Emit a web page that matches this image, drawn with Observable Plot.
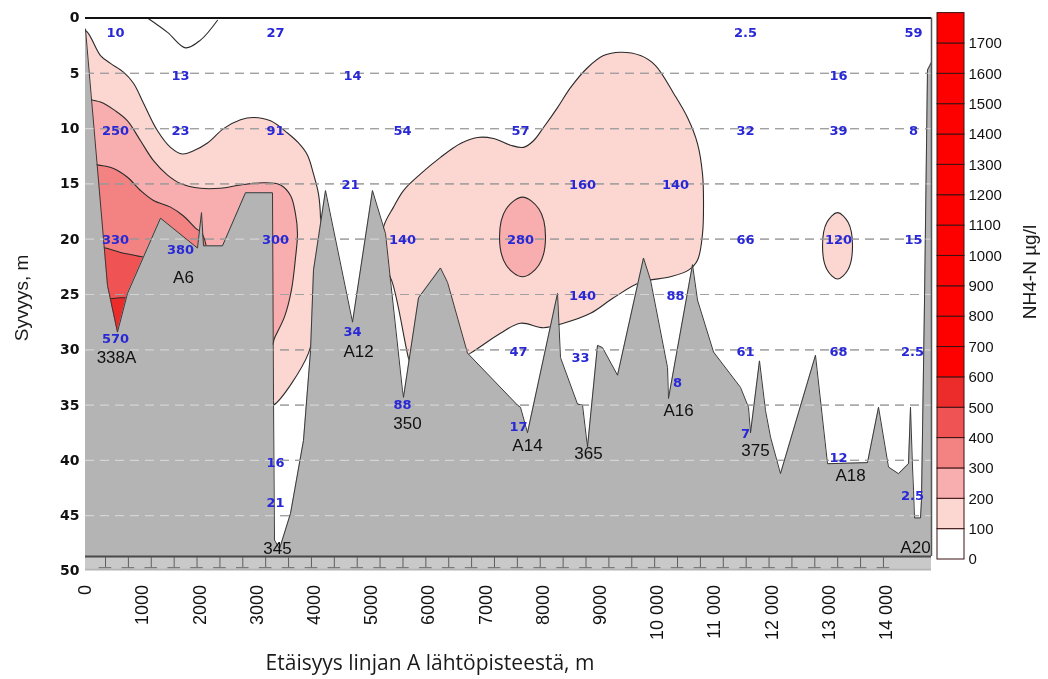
<!DOCTYPE html>
<html>
<head>
<meta charset="utf-8">
<script src="https://cdn.jsdelivr.net/npm/d3@7"></script>
<script src="https://cdn.jsdelivr.net/npm/@observablehq/plot@0.6"></script>
<style>
  body { margin: 0; background: #fff; }
  #wrap { position: relative; width: 1048px; height: 679px; overflow: hidden; font-family: "Liberation Sans", Arial, sans-serif; }
  #main { position: absolute; left: 0; top: 0; }
  #legend { position: absolute; left: 930px; top: 0; }
  .rot { position: absolute; white-space: nowrap; transform: translate(-50%, -50%) rotate(-90deg); color: #1a1a1a; }
  #xtitle { position: absolute; left: 0; width: 860px; top: 648px; text-align: center; font-family: "Open Sans", sans-serif; font-size: 21px; color: #1a1a1a; }
</style>
</head>
<body>
<div id="wrap">
  <div id="main"></div>
  <div id="legend"></div>
  <div class="rot" id="ytitle" style="left:22px; top:298px; font-size:19px;">Syvyys, m</div>
  <div class="rot" id="ltitle" style="left:1030px; top:272px; font-size:19px;">NH4-N µg/l</div>
  <div id="xtitle">Etäisyys linjan A lähtöpisteestä, m</div>
</div>
<script>
// Section A: distance along the line (m) vs depth (m)

// Sea-floor profile [distance, depth]
const seabed = [
  [0,1.0],[385,24.2],[559,28.4],[734,24.9],[1311,18.1],[1958,20.8],[2028,17.6],[2063,20.6],[2395,20.6],
  [2797,15.8],[3269,15.8],[3287,34.6],[3304,47.2],[3392,48.0],[3584,44.8],[3811,38.2],[3934,30.1],[3986,22.8],
  [4196,15.6],[4668,27.5],[5017,15.6],[5245,19.5],[5332,23.7],[5542,33.7],[5559,34.3],[5822,25.3],[6206,22.6],
  [6329,23.9],[6678,30.3],[7552,35.0],[7605,35.2],[7727,37.5],[8252,24.9],[8304,30.7],[8601,34.9],[8689,35.0],
  [8776,38.8],[8951,29.6],[9038,29.8],[9301,32.3],[9755,21.7],[9878,23.7],[10175,31.6],[10192,34.4],[10612,22.3],
  [10699,25.5],[10979,30.2],[11451,33.4],[11591,35.2],[11626,37.5],[11783,31.0],[11888,35.5],[11976,37.9],
  [12150,41.2],[12762,30.5],[12972,40.3],[13671,40.2],[13864,35.2],[14038,40.6],[14213,41.2],[14388,40.3],
  [14423,35.2],[14458,40.6],[14476,42.7],[14493,45.2],[14598,45.2],[14615,43.6],[14668,25.5],[14720,4.7],[14790,4.0]
];

// Isoline regions (closed outlines, the part under the sea floor is hidden by it)
const iso100West = [
  [-150,0.9],[17,1.2],[262,3.4],[437,4.1],[664,4.9],[839,5.9],[1014,7.7],[1259,10.2],[1486,11.7],[1696,12.3],
  [1888,12.0],[2133,11.3],[2413,10.0],[2710,9.2],[2937,9.0],[3234,9.3],[3531,10.4],[3724,11.3],[3881,12.4],
  [3986,14.1],[4073,15.9],[4108,18.0],[4090,22.0],[4000,27.0],[3899,30.3],[3287,35.0],[3200,35.0],[3150,29],
  [1500,27],[750,27],[600,31],[300,29],[-150,29]
];
const iso200West = [
  [-150,7.2],[0,7.3],[262,7.6],[524,8.4],[734,9.3],[962,11.1],[1189,12.9],[1434,14.2],[1661,14.96],[2010,15.4],
  [2360,15.4],[2710,15.1],[3112,14.9],[3409,15.1],[3584,16.05],[3671,17.7],[3706,19.5],[3671,21.7],[3600,24.6],
  [3480,27.0],[3300,29.0],[3269,29.5],[3150,29.5],[1500,27],[750,27],[600,31],[300,29],[-150,29]
];
const iso300West = [
  [-150,13.0],[227,13.3],[490,13.6],[734,14.4],[962,15.6],[1189,16.5],[1486,17.1],[1713,17.9],[1923,19.0],
  [2040,19.5],[2100,22],[1500,24],[800,27],[600,31],[300,29],[-150,29]
];
const iso400West = [[-150,20.5],[200,20.7],[350,20.8],[612,21.2],[892,21.5],[1100,21.9],[900,27],[600,31],[300,27],[-150,27]];
const iso500West = [[300,25.4],[402,25.4],[612,25.3],[752,25.4],[900,27],[600,31],[300,27]];
const iso100Mid = [
  [5210,18.9],[5385,17.1],[5559,15.6],[5857,14.1],[6206,12.6],[6556,11.35],[6853,10.8],[7133,10.9],[7430,11.5],
  [7657,11.7],[7832,11.1],[8007,9.9],[8252,8.1],[8479,6.3],[8776,4.5],[9056,3.4],[9353,3.1],[9703,3.4],[9965,4.3],
  [10280,6.8],[10524,9.0],[10699,11.35],[10787,14.1],[10804,16.5],[10787,19.5],[10699,21.9],[10542,22.8],
  [10227,23.4],[9703,23.9],[9231,25.3],[8829,26.7],[8357,27.6],[8007,28.0],[7605,27.6],[7255,28.5],[6731,30.3],
  [6468,31.0],[6031,29.2],[5717,31.7],[5664,31.1],[5350,23.7],[5175,22.1]
];
const iso200Mid = [[7640,16.2],[7924,17.25],[8042,19.8],[7924,22.35],[7640,23.4],[7356,22.35],[7238,19.8],[7356,17.25]];
const iso100East = [[13147,17.6],[13332,18.47],[13409,20.6],[13332,22.73],[13147,23.6],[12962,22.73],[12885,20.6],[12962,18.47]];
const iso10Top = [[1084,0],[1434,1.3],[1748,2.7],[2010,2.0],[2308,0.2]];

// Measured NH4-N values [distance, depth, label]
const samples = [
  [524,1.3,"10"],[3322,1.3,"27"],[11538,1.3,"2.5"],[14476,1.3,"59"],
  [1661,5.2,"13"],[4668,5.2,"14"],[13164,5.2,"16"],
  [524,10.2,"250"],[1661,10.2,"23"],[3322,10.2,"91"],[5542,10.2,"54"],[7605,10.2,"57"],[11538,10.2,"32"],[13164,10.2,"39"],[14476,10.2,"8"],
  [4633,15.1,"21"],[8689,15.1,"160"],[10315,15.1,"140"],
  [524,20.1,"330"],[1661,21.0,"380"],[3322,20.1,"300"],[5542,20.1,"140"],[7605,20.1,"280"],[11538,20.1,"66"],[13164,20.1,"120"],[14476,20.1,"15"],
  [8689,25.1,"140"],[10315,25.1,"88"],
  [524,29.0,"570"],[4668,28.4,"34"],
  [7570,30.2,"47"],[8654,30.7,"33"],[11538,30.2,"61"],[13164,30.2,"68"],[14458,30.2,"2.5"],
  [10350,33.0,"8"],[5542,35.0,"88"],[7570,37.0,"17"],[11538,37.6,"7"],
  [3322,40.2,"16"],[13164,39.8,"12"],[3322,43.8,"21"],[14458,43.2,"2.5"]
];

// Station names [distance, depth, name]
const stations = [
  [542,30.7,"338A"],[1713,23.5,"A6"],[3357,48.0,"345"],[4773,30.2,"A12"],[5629,36.7,"350"],[7727,38.7,"A14"],
  [8794,39.4,"365"],[10367,35.5,"A16"],[11713,39.1,"375"],[13374,41.4,"A18"],[14510,47.9,"A20"]
];

// Axis ticks
const distTicks = d3.range(0, 15000, 1000);
const distMinorTicks = d3.range(350, 14000, 400);
const depthTicks = d3.range(0, 55, 5);
const gridDepths = d3.range(5, 50, 5);

// Concentration classes (µg/l) and their colours
const classBreaks = d3.range(0, 1800, 100);
const legendTicks = d3.range(0, 1800, 100);
const classColors = ["#ffffff", "#fcd6d1", "#f8aeae", "#f38282", "#f05353", "#ec2b2b"];
const topColor = "#fd0000";
const colorOf = lo => classColors[lo / 100] ?? topColor;

const xMax = 14790, floorDepth = 48.7, axisDepth = 50;
const X = d => d[0], Y = d => d[1];

const isoStyle = (fill) => ({x: X, y: Y, fill, stroke: "#2a2a2a", strokeWidth: 1.1, curve: "catmull-rom-closed", clip: true});
const gridDash = "9,6";

const main = Plot.plot({
  width: 935, height: 679,
  marginLeft: 85, marginRight: 4, marginTop: 17.5, marginBottom: 108.5,
  style: {background: "transparent", fontFamily: "'Liberation Sans', Arial, sans-serif"},
  x: {domain: [0, xMax]},
  y: {domain: [0, axisDepth], reverse: true},
  marks: [
    Plot.line(iso100West, isoStyle(colorOf(100))),
    Plot.line(iso200West, isoStyle(colorOf(200))),
    Plot.line(iso300West, isoStyle(colorOf(300))),
    Plot.line(iso400West, isoStyle(colorOf(400))),
    Plot.line(iso500West, isoStyle(colorOf(500))),
    Plot.line(iso100Mid, isoStyle(colorOf(100))),
    Plot.line(iso200Mid, isoStyle(colorOf(200))),
    Plot.line(iso100East, isoStyle(colorOf(100))),
    Plot.line(iso10Top, {x: X, y: Y, stroke: "#2a2a2a", strokeWidth: 1.1, curve: "catmull-rom"}),
    // grid over the water column
    Plot.ruleY(gridDepths, {x1: 0, x2: xMax, stroke: "#5a5a5a", strokeWidth: 1.2, strokeDasharray: gridDash}),
    // sea floor
    Plot.areaY(seabed, {x: X, y1: () => axisDepth, y2: Y, fill: "#b4b4b4"}),
    Plot.line(seabed, {x: X, y: Y, stroke: "#3a3a3a", strokeWidth: 1}),
    // grid lightened where it crosses the sea floor
    Plot.ruleY(gridDepths, {x1: 0, x2: xMax, stroke: "#6e6e6e", strokeWidth: 1.2, strokeDasharray: gridDash, mixBlendMode: "screen"}),
    // frame pieces
    Plot.areaY([0, xMax], {x: d => d, y1: () => floorDepth + 0.1, y2: () => floorDepth + 1.15, fill: "#c9c9c9"}),
    Plot.ruleX(distMinorTicks, {x: d => d, y1: () => floorDepth + 0.1, y2: () => floorDepth + 1.0, stroke: "#5e5e5e"}),
    Plot.ruleY(distMinorTicks, {y: () => floorDepth + 1.0, x1: d => d - 110, x2: d => d + 110, stroke: "#6a6a6a"}),
    Plot.ruleY([floorDepth], {x1: 0, x2: xMax, stroke: "#4a4a4a", strokeWidth: 2}),
    Plot.ruleY([0], {x1: 0, x2: xMax, stroke: "#111", strokeWidth: 2.2}),
    Plot.ruleX([xMax], {y1: 0, y2: floorDepth, stroke: "#555", strokeWidth: 1.5}),
    // values and stations
    Plot.text(samples, {x: d => d[0], y: d => d[1], text: d => d[2], fill: "#2828d6", fontSize: 13, fontWeight: "bold",
      fontFamily: "'DejaVu Sans', sans-serif"}),
    Plot.text(stations, {x: d => d[0], y: d => d[1], text: d => d[2], fill: "#111", fontSize: 17,
      fontFamily: "'Liberation Sans', Arial, sans-serif"}),
    // axes
    Plot.axisY({ticks: depthTicks, tickSize: 0, tickPadding: 6, fontSize: 14, fontWeight: "bold",
      fontFamily: "'DejaVu Sans', sans-serif", fill: "#111", label: null}),
    Plot.axisX({ticks: distTicks, tickSize: 0, tickPadding: 14, tickRotate: -90, fontSize: 18, fill: "#111", label: null,
      tickFormat: d => d >= 10000 ? `${Math.floor(d / 1000)} 000` : String(d)})
  ]
});
document.getElementById("main").appendChild(main);

// Colour legend
const bands = classBreaks.map(lo => ({lo, hi: lo + 100}));
const legend = Plot.plot({
  width: 118, height: 679,
  marginLeft: 7, marginRight: 84, marginTop: 12.6, marginBottom: 120,
  style: {background: "transparent", fontFamily: "'Liberation Sans', Arial, sans-serif"},
  x: {domain: [0, 1], axis: null},
  y: {domain: [0, 1800], axis: null},
  marks: [
    Plot.rect(bands, {x1: () => 0, x2: () => 1, y1: "lo", y2: "hi", fill: d => colorOf(d.lo), stroke: "#3a1212", strokeWidth: 1}),
    Plot.axisY({anchor: "right", ticks: legendTicks, tickSize: 0, tickPadding: 4, fontSize: 15, fill: "#111", label: null,
      tickFormat: d => String(d)})
  ]
});
document.getElementById("legend").appendChild(legend);
</script>
</body>
</html>
